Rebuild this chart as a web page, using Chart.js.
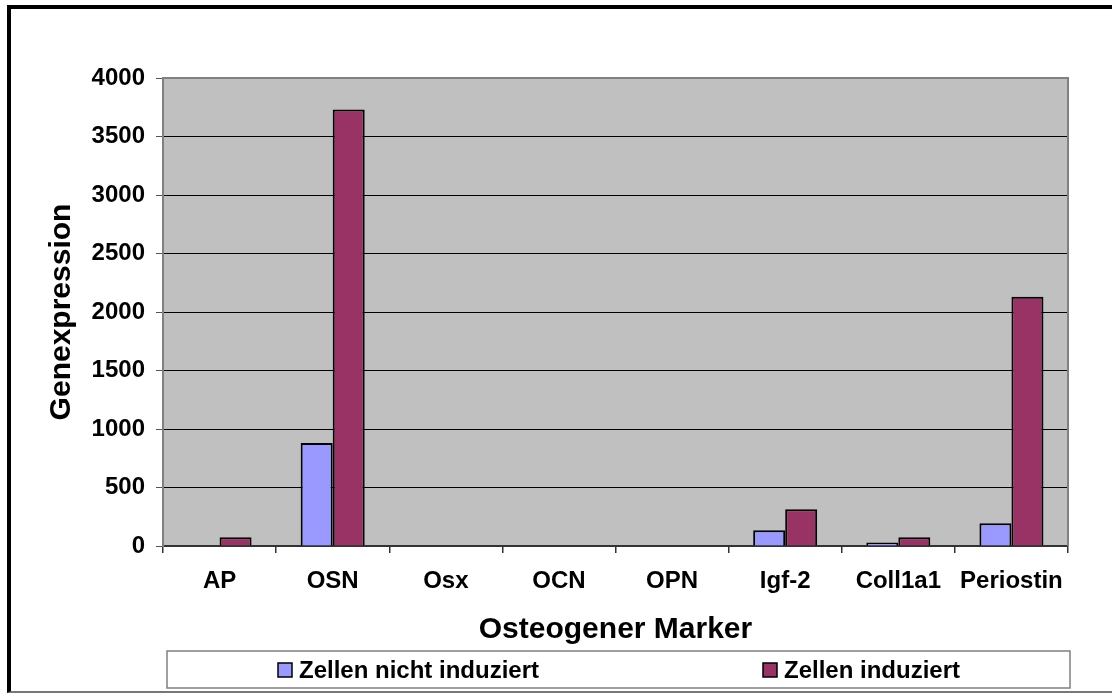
<!DOCTYPE html>
<html>
<head>
<meta charset="utf-8">
<script src="https://cdn.jsdelivr.net/npm/chart.js@4/dist/chart.umd.min.js"></script>
<style>
  html, body { margin: 0; padding: 0; background: #fff; overflow: hidden; }
  #wrap { position: relative; width: 1112px; height: 693px; }
  #frame {
    position: absolute; left: 7px; top: 5px; width: 1200px; height: 688px;
    box-sizing: border-box;
    border-left: 4px solid #000; border-top: 4px solid #000; border-bottom: 2px solid #777;
    pointer-events: none;
  }
</style>
</head>
<body>
<div id="wrap">
  <canvas id="chart" width="1112" height="693"></canvas>
  <div id="frame"></div>
</div>
<script>
const categories = ["AP", "OSN", "Osx", "OCN", "OPN", "Igf-2", "Coll1a1", "Periostin"];
const nichtInduziert = [0, 880, 0, 0, 0, 135, 30, 195];
const induziert = [75, 3730, 0, 0, 0, 315, 75, 2130];
const seriesLabels = ["Zellen nicht induziert", "Zellen induziert"];
const yTicks = [0, 500, 1000, 1500, 2000, 2500, 3000, 3500, 4000];

const FONT = "'Liberation Sans', Arial, Helvetica, sans-serif";
Chart.defaults.font.family = FONT;
Chart.defaults.color = "#000";

// grey plot background + top/right frame of the plot area
const plotArea = {
    id: "plotArea",
    beforeDraw(chart) {
        const { ctx, chartArea: a } = chart;
        ctx.save();
        ctx.fillStyle = "#C0C0C0";
        ctx.fillRect(a.left, a.top, a.right - a.left, a.bottom - a.top);
        ctx.restore();
    },
    beforeDatasetsDraw(chart) {
        const { ctx, chartArea: a } = chart;
        ctx.save();
        ctx.strokeStyle = "#808080";
        ctx.lineWidth = 2;
        ctx.beginPath();
        ctx.moveTo(a.left, a.top);
        ctx.lineTo(a.right, a.top);
        ctx.lineTo(a.right, a.bottom);
        ctx.stroke();
        ctx.restore();
    },
};

// boxed legend below the axis title
const boxLegend = {
    id: "boxLegend",
    afterDraw(chart) {
        const { ctx } = chart;
        const box = { left: 167, top: 651, right: 1070, bottom: 688 };
        const starts = [278, 763];
        ctx.save();
        ctx.strokeStyle = "#808080";
        ctx.lineWidth = 1.5;
        ctx.strokeRect(box.left, box.top, box.right - box.left, box.bottom - box.top);
        ctx.font = "bold 24px " + FONT;
        ctx.textBaseline = "alphabetic";
        chart.data.datasets.forEach((ds, i) => {
            const x = starts[i];
            ctx.fillStyle = ds.backgroundColor;
            ctx.fillRect(x, 663, 14, 14);
            ctx.strokeStyle = "#000";
            ctx.lineWidth = 1.5;
            ctx.strokeRect(x, 663, 14, 14);
            ctx.fillStyle = "#000";
            ctx.fillText(ds.label, x + 21, 678);
        });
        ctx.restore();
    },
};

new Chart(document.getElementById("chart"), {
    type: "bar",
    data: {
        labels: categories,
        datasets: [
            {
                label: seriesLabels[0],
                data: nichtInduziert,
                backgroundColor: "#9999FF",
                borderColor: "#000",
                borderWidth: 2,
            },
            {
                label: seriesLabels[1],
                data: induziert,
                backgroundColor: "#993366",
                borderColor: "#000",
                borderWidth: 2,
            },
        ],
    },
    options: {
        responsive: false,
        animation: false,
        events: [],
        layout: { padding: { left: 12, top: 78, right: 44, bottom: 48 } },
        datasets: { bar: { categoryPercentage: 0.566, barPercentage: 1 } },
        plugins: { legend: { display: false }, tooltip: { enabled: false } },
        scales: {
            x: {
                afterFit: (scale) => { scale.height = 99; },
                grid: { offset: true, drawOnChartArea: false, tickLength: 7, tickColor: "#333", lineWidth: 1.5 },
                border: { color: "#333", width: 2 },
                ticks: { font: { size: 24, weight: "bold" }, padding: 14, color: "#000" },
                title: {
                    display: true,
                    text: "Osteogener Marker",
                    font: { size: 30, weight: "bold", lineHeight: 1 },
                    padding: { top: 0, bottom: 0 },
                    color: "#000",
                },
            },
            y: {
                min: 0,
                max: 4000,
                afterFit: (scale) => { scale.width = 151; },
                afterBuildTicks: (scale) => { scale.ticks = yTicks.map((v) => ({ value: v })); },
                grid: { color: "#000", lineWidth: 1, tickLength: 7, tickColor: "#555" },
                border: { color: "#808080", width: 2 },
                ticks: {
                    font: { size: 24, weight: "bold" },
                    padding: 11,
                    color: "#000",
                    callback: (value) => String(value),
                },
                title: {
                    display: true,
                    text: "Genexpression",
                    font: { size: 30, weight: "bold", lineHeight: 1 },
                    padding: { top: 35, bottom: 0 },
                    color: "#000",
                },
            },
        },
    },
    plugins: [plotArea, boxLegend],
});
</script>
</body>
</html>
